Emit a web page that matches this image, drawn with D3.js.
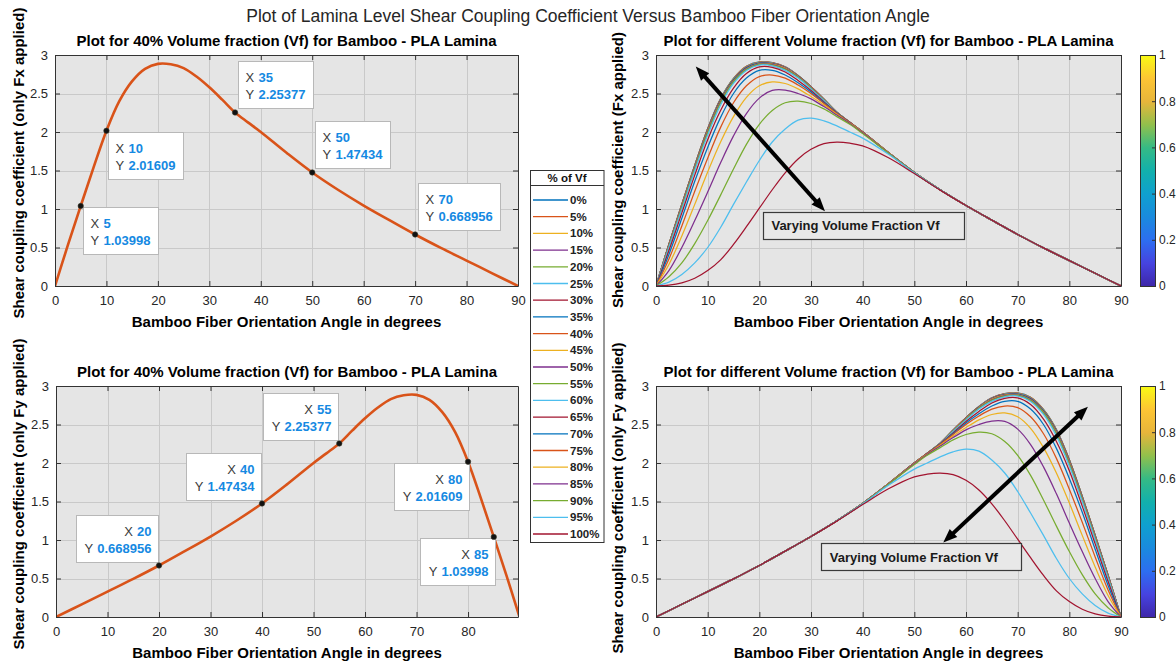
<!DOCTYPE html>
<html>
<head>
<meta charset="utf-8">
<script src="https://cdn.jsdelivr.net/npm/d3@7"></script>
<style>
  html, body { margin: 0; padding: 0; background: #ffffff; }
  svg { display: block; font-family: "Liberation Sans", Arial, Helvetica, sans-serif; }
</style>
</head>
<body>
<svg id="fig" width="1176" height="663"></svg>
<script>
// ---------------------------------------------------------------------------
// Data: shear coupling coefficient of a bamboo-PLA lamina versus fibre angle
// ---------------------------------------------------------------------------

// Fibre orientation angles (degrees) when only Fx is applied
const angleFx = [0, 2.5, 5, 7.5, 10, 12.5, 15, 17.5, 20, 22.5, 25, 27.5, 30, 32.5, 35, 37.5, 40, 45, 50, 55, 60, 65, 70, 75, 80, 85, 90];
// The same samples seen from the load in the y direction (only Fy applied)
const angleFy = [90, 87.5, 85, 82.5, 80, 77.5, 75, 72.5, 70, 67.5, 65, 62.5, 60, 57.5, 55, 52.5, 50, 45, 40, 35, 30, 25, 20, 15, 10, 5, 0];

// Coefficient per fibre volume fraction, sampled at the angles above
const vf0   = [0, 0.544, 1.063, 1.568, 2.044, 2.433, 2.695, 2.854, 2.910, 2.901, 2.846, 2.733, 2.589, 2.427, 2.257, 2.127, 2.001, 1.731, 1.475, 1.25, 1.045, 0.855, 0.669, 0.495, 0.33, 0.165, 0];
const vf5   = [0, 0.543, 1.062, 1.567, 2.042, 2.431, 2.693, 2.852, 2.909, 2.900, 2.845, 2.732, 2.588, 2.426, 2.257, 2.127, 2.001, 1.731, 1.475, 1.25, 1.045, 0.855, 0.669, 0.495, 0.33, 0.165, 0];
const vf10  = [0, 0.542, 1.060, 1.565, 2.040, 2.429, 2.691, 2.850, 2.907, 2.899, 2.844, 2.731, 2.588, 2.426, 2.257, 2.127, 2.001, 1.731, 1.475, 1.25, 1.045, 0.855, 0.669, 0.495, 0.33, 0.165, 0];
const vf15  = [0, 0.541, 1.058, 1.563, 2.038, 2.426, 2.688, 2.848, 2.905, 2.897, 2.843, 2.730, 2.587, 2.425, 2.256, 2.126, 2.001, 1.731, 1.475, 1.25, 1.045, 0.855, 0.669, 0.495, 0.33, 0.165, 0];
const vf20  = [0, 0.539, 1.056, 1.560, 2.035, 2.423, 2.685, 2.845, 2.902, 2.895, 2.841, 2.729, 2.586, 2.425, 2.256, 2.126, 2.000, 1.731, 1.475, 1.25, 1.045, 0.855, 0.669, 0.495, 0.33, 0.165, 0];
const vf25  = [0, 0.537, 1.053, 1.556, 2.031, 2.419, 2.681, 2.841, 2.899, 2.892, 2.839, 2.728, 2.585, 2.424, 2.256, 2.126, 2.000, 1.731, 1.475, 1.25, 1.045, 0.855, 0.669, 0.495, 0.33, 0.165, 0];
const vf30  = [0, 0.535, 1.050, 1.552, 2.027, 2.414, 2.676, 2.836, 2.895, 2.889, 2.837, 2.726, 2.584, 2.423, 2.255, 2.126, 2.000, 1.730, 1.475, 1.25, 1.045, 0.855, 0.669, 0.495, 0.33, 0.165, 0];
const vf35  = [0, 0.533, 1.045, 1.548, 2.022, 2.408, 2.670, 2.830, 2.890, 2.885, 2.834, 2.723, 2.582, 2.422, 2.255, 2.125, 2.000, 1.730, 1.475, 1.25, 1.045, 0.855, 0.669, 0.495, 0.33, 0.165, 0];
const vf40  = [0, 0.530, 1.03998, 1.540, 2.01609, 2.400, 2.660, 2.820, 2.885, 2.880, 2.830, 2.720, 2.580, 2.420, 2.25377, 2.125, 2.000, 1.730, 1.47434, 1.25, 1.045, 0.855, 0.668956, 0.495, 0.33, 0.165, 0];
const vf45  = [0, 0.525, 1.035, 1.535, 2.010, 2.395, 2.658, 2.818, 2.884, 2.878, 2.826, 2.718, 2.578, 2.420, 2.254, 2.125, 2.000, 1.730, 1.474, 1.25, 1.045, 0.855, 0.669, 0.495, 0.33, 0.165, 0];
const vf50  = [0, 0.520, 1.030, 1.530, 2.005, 2.390, 2.655, 2.815, 2.882, 2.875, 2.822, 2.715, 2.575, 2.418, 2.254, 2.124, 1.999, 1.730, 1.474, 1.25, 1.045, 0.855, 0.669, 0.495, 0.33, 0.165, 0];
const vf55  = [0, 0.510, 1.020, 1.520, 1.990, 2.380, 2.650, 2.810, 2.878, 2.870, 2.815, 2.710, 2.570, 2.415, 2.253, 2.124, 1.999, 1.730, 1.474, 1.25, 1.045, 0.855, 0.669, 0.495, 0.33, 0.165, 0];
const vf60  = [0, 0.500, 1.000, 1.500, 1.960, 2.350, 2.630, 2.800, 2.870, 2.860, 2.800, 2.700, 2.560, 2.410, 2.252, 2.123, 1.999, 1.730, 1.474, 1.25, 1.045, 0.855, 0.669, 0.495, 0.33, 0.165, 0];
const vf65  = [0, 0.460, 0.950, 1.440, 1.900, 2.280, 2.570, 2.760, 2.845, 2.840, 2.780, 2.670, 2.540, 2.390, 2.250, 2.123, 1.999, 1.730, 1.474, 1.25, 1.045, 0.855, 0.669, 0.495, 0.33, 0.165, 0];
const vf70  = [0, 0.410, 0.880, 1.360, 1.800, 2.190, 2.500, 2.700, 2.800, 2.800, 2.740, 2.640, 2.520, 2.380, 2.245, 2.120, 1.998, 1.730, 1.474, 1.25, 1.045, 0.855, 0.669, 0.495, 0.33, 0.165, 0];
const vf75  = [0, 0.350, 0.780, 1.230, 1.660, 2.060, 2.380, 2.600, 2.720, 2.740, 2.700, 2.610, 2.500, 2.370, 2.240, 2.120, 1.997, 1.730, 1.474, 1.25, 1.045, 0.855, 0.669, 0.495, 0.33, 0.165, 0];
const vf80  = [0, 0.280, 0.650, 1.060, 1.480, 1.870, 2.200, 2.450, 2.600, 2.650, 2.630, 2.560, 2.460, 2.350, 2.230, 2.115, 1.995, 1.730, 1.474, 1.25, 1.045, 0.855, 0.669, 0.495, 0.33, 0.165, 0];
const vf85  = [0, 0.200, 0.500, 0.850, 1.220, 1.600, 1.950, 2.240, 2.440, 2.540, 2.545, 2.500, 2.430, 2.330, 2.220, 2.110, 1.990, 1.728, 1.474, 1.25, 1.045, 0.855, 0.669, 0.495, 0.33, 0.165, 0];
const vf90  = [0, 0.120, 0.300, 0.550, 0.850, 1.180, 1.520, 1.840, 2.100, 2.280, 2.380, 2.400, 2.370, 2.300, 2.200, 2.100, 1.980, 1.725, 1.473, 1.25, 1.045, 0.855, 0.669, 0.495, 0.33, 0.165, 0];
const vf95  = [0, 0.050, 0.150, 0.300, 0.500, 0.760, 1.060, 1.350, 1.630, 1.870, 2.040, 2.155, 2.180, 2.145, 2.080, 2.000, 1.920, 1.710, 1.470, 1.25, 1.045, 0.855, 0.669, 0.495, 0.33, 0.165, 0];
const vf100 = [0, 0.010, 0.040, 0.100, 0.200, 0.340, 0.540, 0.770, 1.010, 1.250, 1.470, 1.650, 1.775, 1.848, 1.868, 1.855, 1.820, 1.665, 1.460, 1.245, 1.045, 0.855, 0.669, 0.495, 0.33, 0.165, 0];

const volumeFractions = ["0%", "5%", "10%", "15%", "20%", "25%", "30%", "35%", "40%", "45%", "50%",
                         "55%", "60%", "65%", "70%", "75%", "80%", "85%", "90%", "95%", "100%"];
const familyValues = [vf0, vf5, vf10, vf15, vf20, vf25, vf30, vf35, vf40, vf45, vf50,
                      vf55, vf60, vf65, vf70, vf75, vf80, vf85, vf90, vf95, vf100];

// Data tips on the 40 % curve
const tipAngleFx = [5, 10, 35, 50, 70];
const tipValueFx = [1.03998, 2.01609, 2.25377, 1.47434, 0.668956];
const tipAngleFy = [20, 40, 55, 80, 85];
const tipValueFy = [0.668956, 1.47434, 2.25377, 2.01609, 1.03998];

// Axis ticks
const xTicksFull = [0, 10, 20, 30, 40, 50, 60, 70, 80, 90];
const xTicksShort = [0, 10, 20, 30, 40, 50, 60, 70, 80];
const yTicks = [0, 0.5, 1, 1.5, 2, 2.5, 3];
const colorbarTicks = [0, 0.2, 0.4, 0.6, 0.8, 1];

// ---------------------------------------------------------------------------
// Styling
// ---------------------------------------------------------------------------
const FONT = '"Liberation Sans", Arial, Helvetica, sans-serif';
const lineColors = ["#0072bd", "#d95319", "#edb120", "#7e2f8e", "#77ac30", "#4dbeee", "#a2142f"];
const AX_BG = "#e5e5e5";
const GRID = "#c9c9c9";
const AXIS = "#333333";
const TICK_TEXT = "#262626";
const TIP_BLUE = "#1589e2";
const parulaStops = [
  [0.0, "#3e26a8"], [0.1, "#4643e0"], [0.2, "#2d6ef0"], [0.3, "#1a8ade"],
  [0.4, "#0fa0cf"], [0.5, "#12b0ac"], [0.6, "#35ba85"], [0.7, "#91c04c"],
  [0.8, "#e7b53b"], [0.9, "#fdc534"], [1.0, "#f9fa14"]
];

const svg = d3.select("#fig");
const defs = svg.append("defs");

// ---------------------------------------------------------------------------
// Figure title
// ---------------------------------------------------------------------------
svg.append("text")
  .attr("x", 588).attr("y", 22)
  .attr("text-anchor", "middle")
  .attr("font-size", 17.5)
  .attr("fill", "#262626")
  .text("Plot of Lamina Level Shear Coupling Coefficient Versus Bamboo Fiber Orientation Angle");

// ---------------------------------------------------------------------------
// Panel helpers
// ---------------------------------------------------------------------------
function makePanel(p) {
  const x = d3.scaleLinear().domain([0, p.xMax]).range([p.left, p.right]);
  const y = d3.scaleLinear().domain([0, 3]).range([p.bottom, p.top]);
  const g = svg.append("g");

  defs.append("clipPath").attr("id", "clip-" + p.id)
    .append("rect")
    .attr("x", p.left).attr("y", p.top)
    .attr("width", p.right - p.left).attr("height", p.bottom - p.top);

  g.append("rect")
    .attr("x", p.left).attr("y", p.top)
    .attr("width", p.right - p.left).attr("height", p.bottom - p.top)
    .attr("fill", AX_BG);

  const grid = g.append("g").attr("stroke", GRID).attr("stroke-width", 1);
  grid.selectAll("line.gx")
    .data(p.xTicks.filter(t => t > 0 && t < p.xMax))
    .join("line")
    .attr("x1", d => Math.round(x(d)) + 0.5).attr("x2", d => Math.round(x(d)) + 0.5)
    .attr("y1", p.top).attr("y2", p.bottom);
  grid.selectAll("line.gy")
    .data(yTicks.filter(t => t > 0 && t < 3))
    .join("line")
    .attr("y1", d => Math.round(y(d)) + 0.5).attr("y2", d => Math.round(y(d)) + 0.5)
    .attr("x1", p.left).attr("x2", p.right);

  const plot = g.append("g").attr("clip-path", `url(#clip-${p.id})`);
  const over = svg.append("g");   // annotations drawn above the axes box later
  return { p, x, y, g, plot, over };
}

function styleAxis(sel, showText, size) {
  sel.attr("font-family", FONT).attr("font-size", size || 13);
  sel.selectAll("path.domain").attr("stroke", AXIS).attr("stroke-width", 1);
  sel.selectAll(".tick line").attr("stroke", AXIS).attr("stroke-width", 1);
  sel.selectAll(".tick text").attr("fill", TICK_TEXT);
  if (!showText) sel.selectAll(".tick text").remove();
}

function drawFrame(P, labels) {
  const { p, x, y, g } = P;
  const fmt = d => String(d);
  const ax = g.append("g");
  ax.append("g").attr("transform", `translate(0,${p.bottom})`)
    .call(d3.axisBottom(x).tickValues(p.xTicks).tickSize(-5).tickSizeOuter(0).tickPadding(10).tickFormat(fmt))
    .call(s => styleAxis(s, true));
  ax.append("g").attr("transform", `translate(0,${p.top})`)
    .call(d3.axisTop(x).tickValues(p.xTicks).tickSize(-5).tickSizeOuter(0).tickFormat(fmt))
    .call(s => styleAxis(s, false));
  ax.append("g").attr("transform", `translate(${p.left},0)`)
    .call(d3.axisLeft(y).tickValues(yTicks).tickSize(-5).tickSizeOuter(0).tickPadding(7).tickFormat(fmt))
    .call(s => styleAxis(s, true));
  ax.append("g").attr("transform", `translate(${p.right},0)`)
    .call(d3.axisRight(y).tickValues(yTicks).tickSize(-5).tickSizeOuter(0).tickFormat(fmt))
    .call(s => styleAxis(s, false));

  const cx = (p.left + p.right) / 2;
  g.append("text")
    .attr("x", cx).attr("y", p.top - 9)
    .attr("text-anchor", "middle").attr("font-weight", "bold").attr("font-size", 15)
    .attr("fill", "#000").text(labels.title);
  g.append("text")
    .attr("x", cx).attr("y", p.bottom + 41)
    .attr("text-anchor", "middle").attr("font-weight", "bold").attr("font-size", 15)
    .attr("fill", "#000").text(labels.xLabel);
  g.append("text")
    .attr("transform", `translate(${p.left - labels.yLabelGap},${labels.yLabelCenter}) rotate(-90)`)
    .attr("text-anchor", "middle").attr("font-weight", "bold").attr("font-size", 15)
    .attr("fill", "#000").text(labels.yLabel);
}

function curvePoints(angles, values) {
  return angles.map((a, i) => [a, values[i]]).sort((u, v) => u[0] - v[0]);
}

function drawCurve(P, angles, values, color, width) {
  const line = d3.line().x(d => P.x(d[0])).y(d => P.y(d[1])).curve(d3.curveCatmullRom.alpha(0.5));
  P.plot.append("path")
    .attr("d", line(curvePoints(angles, values)))
    .attr("fill", "none").attr("stroke", color)
    .attr("stroke-width", width).attr("stroke-linejoin", "round");
}

function drawTips(P, angles, values, placement) {
  const tipLayer = P.over.append("g").attr("font-family", FONT).attr("font-size", 13);
  const H = 47;
  angles.forEach((a, i) => {
    const px = P.x(a), py = P.y(values[i]);
    const tg = tipLayer.append("g");
    const box = tg.append("rect").attr("fill", "#ffffff").attr("stroke", "#b8b8b8").attr("stroke-width", 1);
    const rows = [["X", String(a)], ["Y", String(values[i])]];
    const valueNodes = rows.map(r => tg.append("text").attr("font-weight", "bold").attr("fill", TIP_BLUE).text(r[1]));
    const labelNodes = rows.map(r => tg.append("text").attr("fill", "#3c3c3c").text(r[0]));
    const maxVal = d3.max(valueNodes, n => n.node().getComputedTextLength());
    const w = 20 + maxVal + 8;
    const pl = placement[i];
    let bx, by;
    if (pl === "se") { bx = px + 2; by = py + 1; }
    else if (pl === "ne") { bx = px + 3; by = py - 4 - H; }
    else if (pl === "nw") { bx = px - 1 - w; by = py - 3 - H; }
    else { bx = px + 1 - w; by = py + 1.5; }
    box.attr("x", Math.round(bx) + 0.5).attr("y", Math.round(by) + 0.5).attr("width", Math.round(w)).attr("height", H);
    const bxr = Math.round(bx) + 0.5, byr = Math.round(by) + 0.5;
    rows.forEach((r, k) => {
      const base = byr + 20.5 + k * 17;
      if (pl === "se" || pl === "ne") {
        labelNodes[k].attr("x", bxr + 7).attr("y", base);
        valueNodes[k].attr("x", bxr + 20).attr("y", base);
      } else {
        const right = bxr + Math.round(w) - 7;
        const vw = valueNodes[k].node().getComputedTextLength();
        valueNodes[k].attr("x", right).attr("y", base).attr("text-anchor", "end");
        labelNodes[k].attr("x", right - vw - 4).attr("y", base).attr("text-anchor", "end");
      }
    });
  });
  // data-tip markers
  tipLayer.selectAll("circle")
    .data(angles.map((a, i) => [a, values[i]]))
    .join("circle")
    .attr("cx", d => P.x(d[0])).attr("cy", d => P.y(d[1]))
    .attr("r", 2.7).attr("fill", "#111").attr("stroke", "#3a3a2a").attr("stroke-width", 0.6);
}

function drawArrow(P, from, to) {
  const x1 = P.x(from[0]), y1 = P.y(from[1]);
  const x2 = P.x(to[0]), y2 = P.y(to[1]);
  const dx = x2 - x1, dy = y2 - y1, L = Math.hypot(dx, dy);
  const ux = dx / L, uy = dy / L, nx = -uy, ny = ux;
  const head = 14, half = 5.5;
  const g = P.over.append("g");
  g.append("line")
    .attr("x1", x1 + ux * head * 0.7).attr("y1", y1 + uy * head * 0.7)
    .attr("x2", x2 - ux * head * 0.7).attr("y2", y2 - uy * head * 0.7)
    .attr("stroke", "#000").attr("stroke-width", 4);
  const headAt = (tx, ty, sx, sy) => {
    const bx = tx - sx * head, by = ty - sy * head;
    return [[tx, ty], [bx + nx * half, by + ny * half], [bx - nx * half, by - ny * half]];
  };
  [headAt(x2, y2, ux, uy), headAt(x1, y1, -ux, -uy)].forEach(pts => {
    g.append("polygon").attr("points", pts.map(q => q.join(",")).join(" ")).attr("fill", "#000");
  });
}

function drawTextBox(P, corner0, corner1, label) {
  const x0 = P.x(corner0[0]), x1 = P.x(corner1[0]);
  const y0 = P.y(corner0[1]), y1 = P.y(corner1[1]);
  const g = P.over.append("g");
  g.append("rect")
    .attr("x", Math.round(x0) + 0.5).attr("y", Math.round(y0) + 0.5)
    .attr("width", Math.round(x1 - x0)).attr("height", Math.round(y1 - y0))
    .attr("fill", "#e8e8e8").attr("stroke", "#3a3a3a").attr("stroke-width", 1.2);
  g.append("text")
    .attr("x", x0 + 8.5).attr("y", (y0 + y1) / 2 + 4.6)
    .attr("font-family", FONT).attr("font-size", 13).attr("font-weight", "bold")
    .attr("fill", "#1a1a1a").text(label);
}

function drawColorbar(top, bottom, id) {
  const x0 = 1140, w = 15;
  const grad = defs.append("linearGradient").attr("id", id)
    .attr("x1", 0).attr("y1", 1).attr("x2", 0).attr("y2", 0);
  parulaStops.forEach(s => grad.append("stop").attr("offset", s[0]).attr("stop-color", s[1]));
  svg.append("rect").attr("x", x0 + 0.5).attr("y", top + 0.5).attr("width", w).attr("height", bottom - top)
    .attr("fill", `url(#${id})`).attr("stroke", AXIS).attr("stroke-width", 1);
  const c = d3.scaleLinear().domain([0, 1]).range([bottom, top]);
  const ax = svg.append("g").attr("transform", `translate(${x0 + w},0)`)
    .call(d3.axisRight(c).tickValues(colorbarTicks).tickSize(-3).tickSizeOuter(0).tickPadding(4).tickFormat(d => String(d)));
  styleAxis(ax, true, 12);
  ax.select("path.domain").remove();
}

// ---------------------------------------------------------------------------
// Panels
// ---------------------------------------------------------------------------
const fxSingle = makePanel({ id: "fxs", left: 55, right: 518, top: 55, bottom: 286, xMax: 90, xTicks: xTicksFull });
const fxFamily = makePanel({ id: "fxf", left: 656, right: 1121, top: 55, bottom: 286, xMax: 90, xTicks: xTicksFull });
const fySingle = makePanel({ id: "fys", left: 56, right: 518, top: 386, bottom: 617, xMax: 89.7, xTicks: xTicksShort });
const fyFamily = makePanel({ id: "fyf", left: 656, right: 1121, top: 386, bottom: 617, xMax: 90, xTicks: xTicksFull });

// 40 % curves
drawCurve(fxSingle, angleFx, vf40, lineColors[1], 2.6);
drawCurve(fySingle, angleFy, vf40, lineColors[1], 2.6);

// volume-fraction families
familyValues.forEach((vals, i) => {
  drawCurve(fxFamily, angleFx, vals, lineColors[i % 7], 1.25);
  drawCurve(fyFamily, angleFy, vals, lineColors[i % 7], 1.25);
});

const TITLE_40 = "Plot for 40% Volume fraction (Vf) for Bamboo - PLA Lamina";
const TITLE_ALL = "Plot for different Volume fraction (Vf) for Bamboo - PLA Lamina";
const XLAB = "Bamboo Fiber Orientation Angle in degrees";

drawFrame(fxSingle, { title: TITLE_40, xLabel: XLAB, yLabel: "Shear coupling coefficient (only Fx applied)", yLabelGap: 31, yLabelCenter: 163 });
drawFrame(fxFamily, { title: TITLE_ALL, xLabel: XLAB, yLabel: "Shear coupling coefficient (Fx applied)", yLabelGap: 33, yLabelCenter: 170 });
drawFrame(fySingle, { title: TITLE_40, xLabel: XLAB, yLabel: "Shear coupling coefficient (only Fy applied)", yLabelGap: 32, yLabelCenter: 494 });
drawFrame(fyFamily, { title: TITLE_ALL, xLabel: XLAB, yLabel: "Shear coupling coefficient (only Fy applied)", yLabelGap: 33, yLabelCenter: 498 });

// data tips
drawTips(fxSingle, tipAngleFx, tipValueFx, ["se", "se", "ne", "ne", "ne"]);
drawTips(fySingle, tipAngleFy, tipValueFy, ["nw", "nw", "nw", "sw", "sw"]);

// annotations on the family plots
drawArrow(fxFamily, [7.7, 2.85], [32.7, 0.97]);
drawTextBox(fxFamily, [20.7, 0.96], [59.6, 0.61], "Varying Volume Fraction Vf");
drawArrow(fyFamily, [55.6, 0.966], [83.6, 2.73]);
drawTextBox(fyFamily, [32.0, 0.957], [70.7, 0.60], "Varying Volume Fraction Vf");

// colour bars
drawColorbar(55, 286, "parula-top");
drawColorbar(386, 617, "parula-bottom");

// ---------------------------------------------------------------------------
// Legend
// ---------------------------------------------------------------------------
const lg = svg.append("g").attr("font-family", FONT).attr("font-weight", "bold").attr("font-size", 11.5);
lg.append("rect").attr("x", 530.5).attr("y", 170.5).attr("width", 73.5).attr("height", 372)
  .attr("fill", "#ffffff").attr("stroke", AXIS).attr("stroke-width", 1);
lg.append("line").attr("x1", 530.5).attr("x2", 604).attr("y1", 185.5).attr("y2", 185.5)
  .attr("stroke", AXIS).attr("stroke-width", 1);
lg.append("text").attr("x", 567).attr("y", 181.5).attr("text-anchor", "middle").attr("fill", "#111").text("% of Vf");
const legendY = d3.scaleLinear().domain([0, volumeFractions.length - 1]).range([200, 534]);
volumeFractions.forEach((name, i) => {
  lg.append("line").attr("x1", 533).attr("x2", 568)
    .attr("y1", legendY(i)).attr("y2", legendY(i))
    .attr("stroke", lineColors[i % 7]).attr("stroke-width", 1.3);
  lg.append("text").attr("x", 570).attr("y", legendY(i) + 4).attr("fill", "#222").text(name);
});
</script>
</body>
</html>
